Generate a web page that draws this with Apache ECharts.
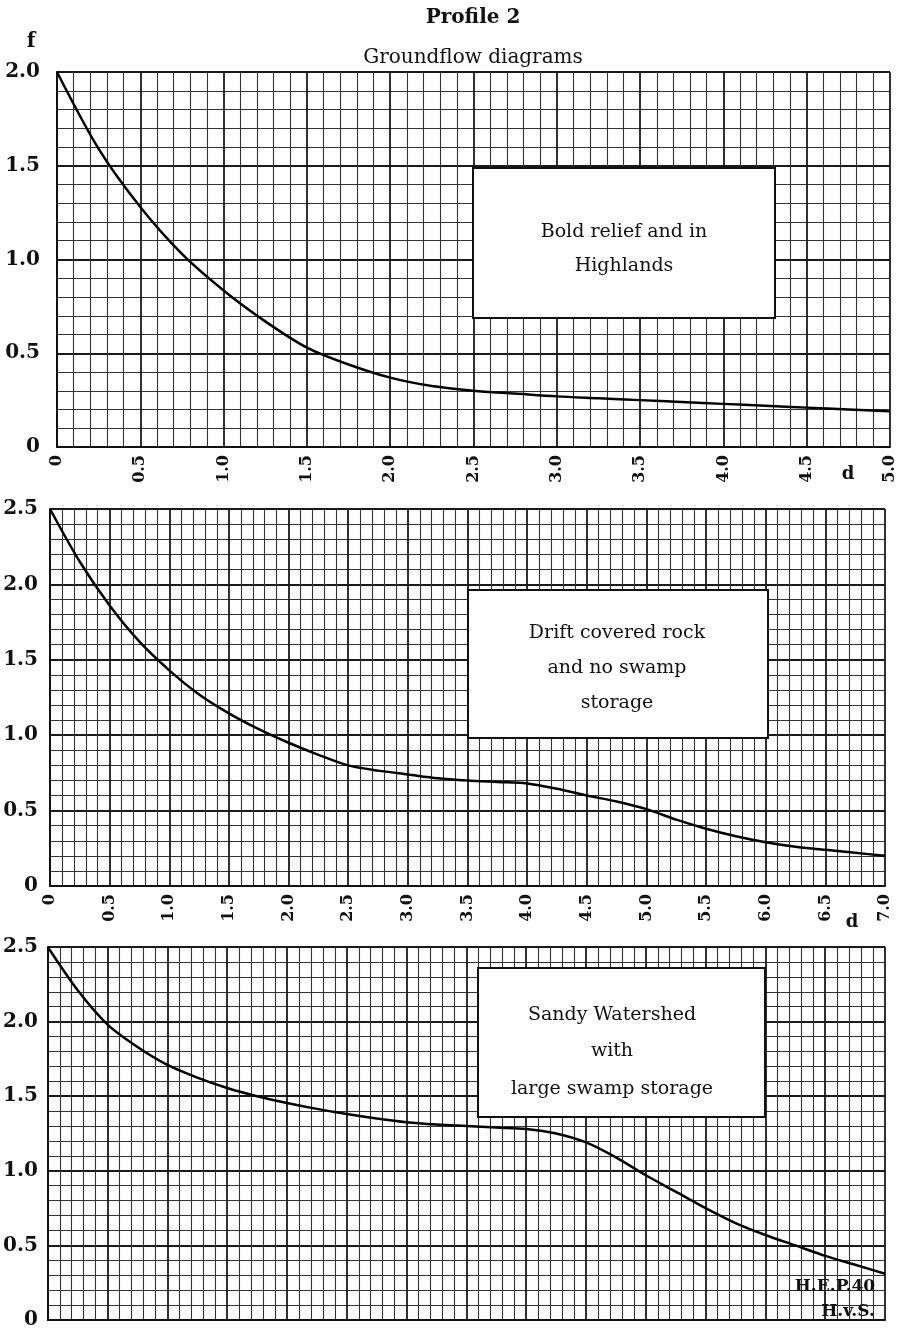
<!DOCTYPE html>
<html>
<head>
<meta charset="utf-8">
<script src="https://cdn.jsdelivr.net/npm/echarts@6/dist/echarts.min.js"></script>
<style>
  html, body { margin: 0; padding: 0; background: #fff; }
  #chart { width: 905px; height: 1339px; }
</style>
</head>
<body>
<div id="chart"></div>
<script>
// Profile 2 - groundflow diagrams, three panels

// panel 1: bold relief and in highlands
var d1 = [0, 0.25, 0.5, 0.75, 1.0, 1.25, 1.5, 1.75, 2.0, 2.25, 2.5, 2.75, 3.0, 3.25, 3.5, 3.75, 4.0, 4.25, 4.5, 4.75, 5.0];
var f1 = [2.0, 1.59, 1.28, 1.03, 0.835, 0.67, 0.53, 0.44, 0.37, 0.325, 0.30, 0.285, 0.27, 0.26, 0.25, 0.24, 0.23, 0.22, 0.21, 0.20, 0.19];

// panel 2: drift covered rock, no swamp storage
var d2 = [0, 0.25, 0.5, 0.75, 1.0, 1.25, 1.5, 1.75, 2.0, 2.25, 2.5, 2.75, 3.0, 3.25, 3.5, 3.75, 4.0,
          4.25, 4.5, 4.75, 5.0, 5.25, 5.5, 5.75, 6.0, 6.25, 6.5, 6.75, 7.0];
var f2 = [2.5, 2.15, 1.86, 1.62, 1.43, 1.27, 1.145, 1.04, 0.95, 0.87, 0.80, 0.765, 0.74, 0.715, 0.70, 0.69, 0.68,
          0.645, 0.60, 0.56, 0.51, 0.44, 0.38, 0.33, 0.29, 0.26, 0.24, 0.22, 0.20];

// panel 3: sandy watershed with large swamp storage
var d3 = [0, 0.25, 0.5, 0.75, 1.0, 1.25, 1.5, 1.75, 2.0, 2.25, 2.5, 2.75, 3.0, 3.25, 3.5, 3.75, 4.0,
          4.25, 4.5, 4.75, 5.0, 5.25, 5.5, 5.75, 6.0, 6.25, 6.5, 6.75, 7.0];
var f3 = [2.5, 2.21, 1.98, 1.83, 1.71, 1.625, 1.555, 1.50, 1.455, 1.415, 1.38, 1.35, 1.325, 1.31, 1.30, 1.29, 1.28,
          1.25, 1.19, 1.09, 0.97, 0.86, 0.75, 0.65, 0.57, 0.50, 0.43, 0.37, 0.31];

var xMax = [5, 7, 7];
var yMax = [2.0, 2.5, 2.5];

var serif = '"DejaVu Serif", "Liberation Serif", serif';

function fmt(v) {
  return v === 0 ? '0' : v.toFixed(1);
}

function pairs(xs, ys) {
  return xs.map(function (x, i) { return [x, ys[i]]; });
}

var grids = [
  {left: 57, top: 72, width: 833, height: 375},
  {left: 50, top: 509, width: 835, height: 377},
  {left: 47, top: 947, width: 838, height: 373}
];

var yLabelMargin = [17, 12, 10];

var xAxes = [], yAxes = [], series = [];
[[d1, f1], [d2, f2], [d3, f3]].forEach(function (p, i) {
  xAxes.push({
    type: 'value', gridIndex: i, min: 0, max: xMax[i], interval: 0.5,
    axisLine: {show: true, onZero: false, lineStyle: {color: '#111', width: 2}},
    axisTick: {show: false},
    axisLabel: {
      show: i < 2, rotate: 90, margin: 8, color: '#111',
      fontFamily: serif, fontWeight: 'bold', fontSize: 16,
      formatter: fmt
    },
    splitLine: {show: true, lineStyle: {color: '#1a1a1a', width: 1.8}},
    minorTick: {show: false, splitNumber: 5},
    minorSplitLine: {show: true, lineStyle: {color: '#333', width: 1.1}}
  });
  yAxes.push({
    type: 'value', gridIndex: i, min: 0, max: yMax[i], interval: 0.5,
    axisLine: {show: true, lineStyle: {color: '#111', width: 2}},
    axisTick: {show: false},
    axisLabel: {
      margin: yLabelMargin[i], color: '#111',
      fontFamily: serif, fontWeight: 'bold', fontSize: 20,
      formatter: fmt
    },
    splitLine: {show: true, lineStyle: {color: '#1a1a1a', width: 1.8}},
    minorTick: {show: false, splitNumber: 5},
    minorSplitLine: {show: true, lineStyle: {color: '#333', width: 1.1}}
  });
  series.push({
    type: 'line', xAxisIndex: i, yAxisIndex: i,
    data: pairs(p[0], p[1]),
    smooth: 0.3, showSymbol: false, z: 5,
    lineStyle: {color: '#000', width: 2.5}
  });
});

function txt(x, y, s, size, weight, align) {
  return {
    type: 'text', x: x, y: y, z: 100,
    style: {
      text: s, fill: '#111', font: (weight || 'normal') + ' ' + size + 'px ' + serif,
      textAlign: align || 'center', textVerticalAlign: 'middle'
    }
  };
}

function box(x, y, w, h) {
  return {
    type: 'rect', z: 90,
    shape: {x: x, y: y, width: w, height: h},
    style: {fill: '#fff', stroke: '#111', lineWidth: 2}
  };
}

var graphics = [
  txt(473, 18, 'Profile 2', 20, 'bold'),
  txt(473, 58, 'Groundflow diagrams', 20),
  txt(31, 42, 'f', 20, 'bold'),
  txt(848, 474, 'd', 18, 'bold'),
  txt(852, 922, 'd', 18, 'bold'),

  box(473, 168, 302, 150),
  txt(624, 232, 'Bold relief and in', 19),
  txt(624, 266, 'Highlands', 19),

  box(468, 590, 300, 148),
  txt(617, 633, 'Drift covered rock', 19),
  txt(617, 668, 'and no swamp', 19),
  txt(617, 703, 'storage', 19),

  box(478, 968, 287, 149),
  txt(612, 1015, 'Sandy Watershed', 19),
  txt(612, 1051, 'with', 19),
  txt(612, 1089, 'large swamp storage', 19),

  txt(835, 1287, 'H.E.P.40', 17, 'bold'),
  txt(848, 1312, 'H.v.S.', 17, 'bold')
];

var myChart = echarts.init(document.getElementById('chart'));
myChart.setOption({
  animation: false,
  backgroundColor: '#fff',
  grid: grids,
  xAxis: xAxes,
  yAxis: yAxes,
  series: series,
  graphic: graphics
});
</script>
</body>
</html>
